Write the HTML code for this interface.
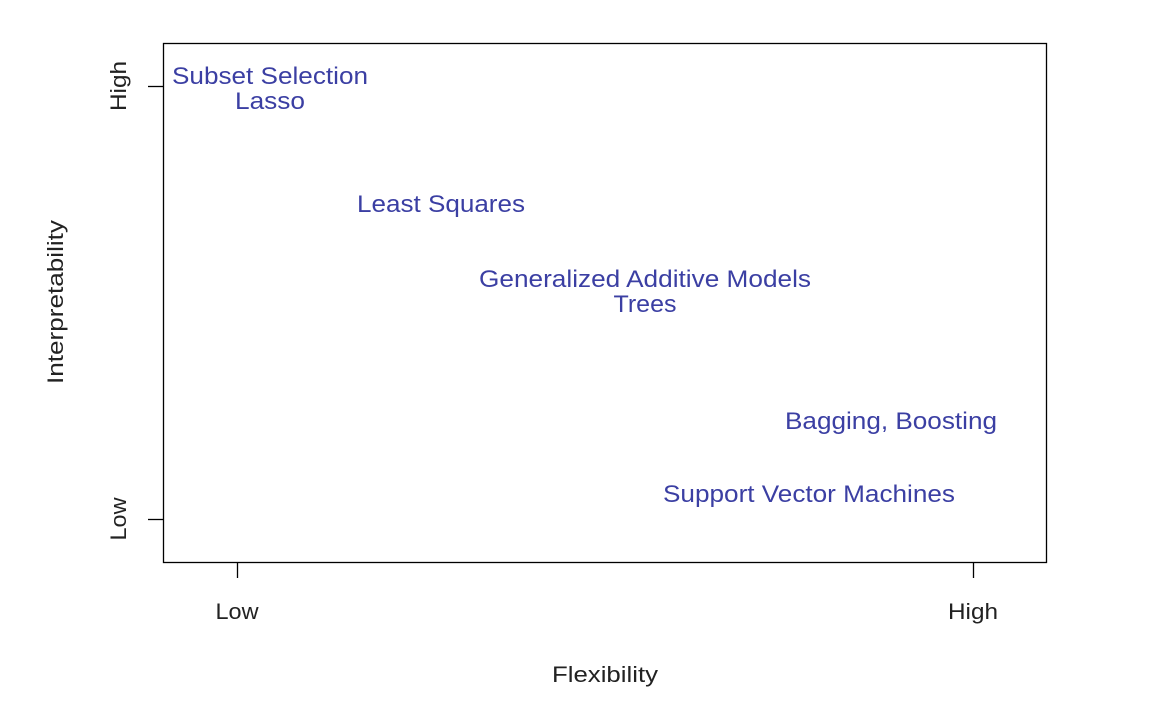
<!DOCTYPE html>
<html><head><meta charset="utf-8"><style>
html,body{margin:0;padding:0;background:#fff;}
svg{display:block;}
text{font-family:"Liberation Sans",Arial,sans-serif;}
</style></head><body>
<svg width="1161" height="708" viewBox="0 0 1161 708" xmlns="http://www.w3.org/2000/svg">
<rect x="163.5" y="43.5" width="883" height="519" fill="none" stroke="#000" stroke-width="1.3"/>
<line x1="148" y1="86.5" x2="163" y2="86.5" stroke="#000" stroke-width="1.3"/>
<line x1="148" y1="519.5" x2="163" y2="519.5" stroke="#000" stroke-width="1.3"/>
<line x1="237.5" y1="563" x2="237.5" y2="578" stroke="#000" stroke-width="1.3"/>
<line x1="973.5" y1="563" x2="973.5" y2="578" stroke="#000" stroke-width="1.3"/>
<g fill="#222" font-size="22" text-anchor="middle" lengthAdjust="spacingAndGlyphs">
<text x="237" y="619" textLength="43" lengthAdjust="spacingAndGlyphs">Low</text>
<text x="973" y="619" textLength="50" lengthAdjust="spacingAndGlyphs">High</text>
<text x="605" y="682" textLength="106" lengthAdjust="spacingAndGlyphs">Flexibility</text>
<text transform="translate(126,86) rotate(-90)" textLength="50" lengthAdjust="spacingAndGlyphs">High</text>
<text transform="translate(126,519) rotate(-90)" textLength="43" lengthAdjust="spacingAndGlyphs">Low</text>
<text transform="translate(63,302) rotate(-90)" textLength="164" lengthAdjust="spacingAndGlyphs">Interpretability</text>
</g>
<g fill="#3b3fa3" font-size="24" text-anchor="middle">
<text x="270" y="84" textLength="196" lengthAdjust="spacingAndGlyphs">Subset Selection</text>
<text x="270" y="109" textLength="70" lengthAdjust="spacingAndGlyphs">Lasso</text>
<text x="441" y="212" textLength="168" lengthAdjust="spacingAndGlyphs">Least Squares</text>
<text x="645" y="287" textLength="332" lengthAdjust="spacingAndGlyphs">Generalized Additive Models</text>
<text x="645" y="312" textLength="63" lengthAdjust="spacingAndGlyphs">Trees</text>
<text x="891" y="429" textLength="212" lengthAdjust="spacingAndGlyphs">Bagging, Boosting</text>
<text x="809" y="502" textLength="292" lengthAdjust="spacingAndGlyphs">Support Vector Machines</text>
</g>
</svg>
</body></html>
